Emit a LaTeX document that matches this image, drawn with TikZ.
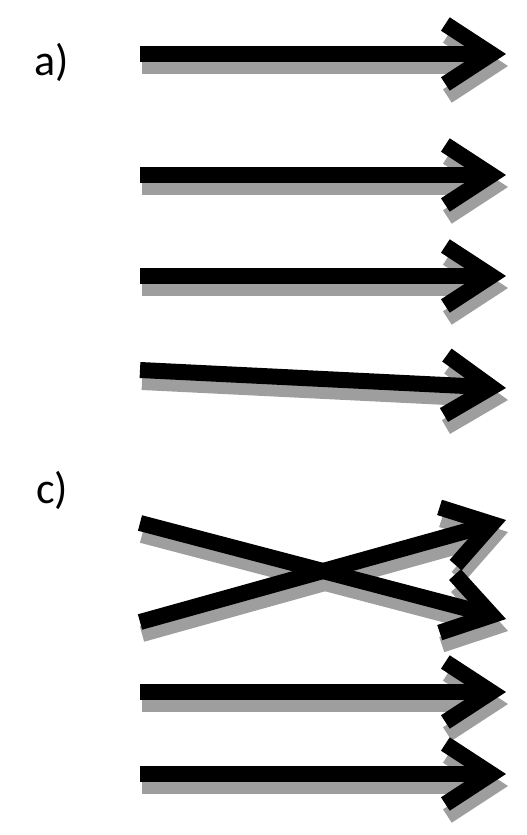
\documentclass[tikz,border=0pt]{standalone}
\usepackage{fontspec}
\setmainfont{Carlito}
\usetikzlibrary{arrows.meta}

\begin{document}
\begin{tikzpicture}[x=1pt,y=-1pt,
  arr/.style={line width=16pt,-{Straight Barb[sharp,length=46pt,width=60pt]}},
  shade/.style={arr,black!38},
  lbl/.style={font=\fontsize{44}{48}\selectfont,inner sep=0pt}]
  \useasboundingbox (0,0) rectangle (527,835);
  \node[lbl] (la) at (52,62) {a)};
  \node[lbl] (lc) at (52,490) {c)};
  % a)
  \coordinate (a1s) at (140,54);  \coordinate (a1e) at (506,54);
  \coordinate (a2s) at (140,175); \coordinate (a2e) at (506,175);
  \coordinate (a3s) at (140,276); \coordinate (a3e) at (506,276);
  \coordinate (a4s) at (140,370); \coordinate (a4e) at (506,388);
  % c)
  \coordinate (c1s) at (140,523); \coordinate (c1e) at (506,619);
  \coordinate (c2s) at (140,622); \coordinate (c2e) at (506,520);
  \coordinate (c3s) at (140,692); \coordinate (c3e) at (506,692);
  \coordinate (c4s) at (140,774); \coordinate (c4e) at (506,774);
  \foreach \s/\e in {a1s/a1e,a2s/a2e,a3s/a3e,a4s/a4e,c1s/c1e,c2s/c2e,c3s/c3e,c4s/c4e}{
    \draw[shade] ([shift={(2,12)}]\s) -- ([shift={(2,12)}]\e);
  }
  \foreach \s/\e in {a1s/a1e,a2s/a2e,a3s/a3e,a4s/a4e,c1s/c1e,c2s/c2e,c3s/c3e,c4s/c4e}{
    \draw[arr] (\s) -- (\e);
  }
\end{tikzpicture}
\end{document}
